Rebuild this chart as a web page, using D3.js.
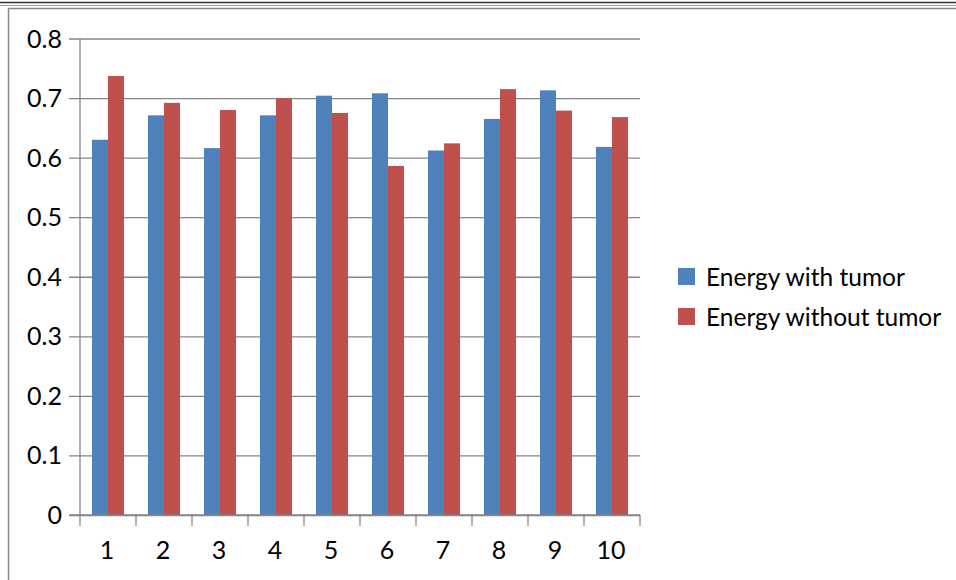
<!DOCTYPE html>
<html>
<head>
<meta charset="utf-8">
<script src="https://cdn.jsdelivr.net/npm/d3@7"></script>
<style>
  html, body { margin: 0; padding: 0; background: #fff; }
  svg { display: block; }
  text { font-family: Lato, "Open Sans", sans-serif; fill: #000; }
</style>
</head>
<body>
<svg id="chart" width="956" height="580"></svg>
<script>
// Sample index along the x axis
const categories = ["1", "2", "3", "4", "5", "6", "7", "8", "9", "10"];
// Series names and their values per sample
const seriesNames = ["Energy with tumor", "Energy without tumor"];
const withTumor = [0.630, 0.671, 0.616, 0.671, 0.704, 0.708, 0.612, 0.665, 0.713, 0.618];
const withoutTumor = [0.737, 0.692, 0.680, 0.700, 0.675, 0.586, 0.624, 0.715, 0.679, 0.668];
// Y axis tick values
const yTicks = [0, 0.1, 0.2, 0.3, 0.4, 0.5, 0.6, 0.7, 0.8];

const colors = ["#4F81BD", "#C0504D"];
const series = [withTumor, withoutTumor];

const svg = d3.select("#chart");

// Page frame: rules across the top and the box edge on the left
svg.append("line").attr("x1", 0).attr("x2", 956).attr("y1", 2.5).attr("y2", 2.5)
  .attr("stroke", "#333").attr("stroke-width", 1.5);
svg.append("line").attr("x1", 0).attr("x2", 956).attr("y1", 5.5).attr("y2", 5.5)
  .attr("stroke", "#999").attr("stroke-width", 1);
svg.append("line").attr("x1", 8).attr("x2", 956).attr("y1", 8.5).attr("y2", 8.5)
  .attr("stroke", "#888").attr("stroke-width", 1.5);
svg.append("line").attr("x1", 8.5).attr("x2", 8.5).attr("y1", 8).attr("y2", 580)
  .attr("stroke", "#888").attr("stroke-width", 1.5);

const plot = { left: 80, right: 640, top: 38.5, bottom: 515 };

const x = d3.scaleBand().domain(categories).range([plot.left, plot.right]).paddingInner(0).paddingOuter(0);
const y = d3.scaleLinear().domain([0, 0.8]).range([plot.bottom, plot.top]);
const barW = 16;

// Horizontal gridlines (with the short tick stub left of the axis)
svg.append("g").attr("transform", `translate(${plot.left},0)`)
  .call(d3.axisLeft(y).tickValues(yTicks).tickSize(-(plot.right - plot.left)).tickFormat(""))
  .call(g => g.select(".domain").remove())
  .call(g => g.selectAll(".tick line").attr("stroke", "#868686").attr("stroke-width", 1.3)
    .attr("x1", -11));

// Y tick labels
svg.append("g").selectAll("text").data(yTicks).join("text")
  .attr("x", 62).attr("y", d => y(d)).attr("dy", "0.36em")
  .attr("text-anchor", "end").attr("font-size", 25)
  .text(d => d === 0 ? "0" : d3.format(".1f")(d));

// Bars
series.forEach((vals, si) => {
  svg.append("g").selectAll("rect").data(vals).join("rect")
    .attr("x", (d, i) => x(categories[i]) + x.bandwidth() / 2 - barW + si * barW)
    .attr("y", d => y(d))
    .attr("width", barW)
    .attr("height", d => y(0) - y(d))
    .attr("fill", colors[si]);
});

// Y axis line
svg.append("line").attr("x1", plot.left).attr("x2", plot.left)
  .attr("y1", plot.top).attr("y2", plot.bottom)
  .attr("stroke", "#868686").attr("stroke-width", 1.3);

// X axis with ticks between categories
const xAxisG = svg.append("g").attr("transform", `translate(0,${plot.bottom})`);
xAxisG.append("line").attr("x1", plot.left - 11).attr("x2", plot.right)
  .attr("stroke", "#868686").attr("stroke-width", 1.3);
const boundaries = categories.map(c => x(c)).concat([plot.right]);
xAxisG.selectAll("line.tk").data(boundaries).join("line").attr("class", "tk")
  .attr("x1", d => d).attr("x2", d => d).attr("y1", 0).attr("y2", 11)
  .attr("stroke", "#868686").attr("stroke-width", 1.3);
xAxisG.selectAll("text").data(categories).join("text")
  .attr("x", d => x(d) + x.bandwidth() / 2 - 1).attr("y", 44)
  .attr("text-anchor", "middle").attr("font-size", 25)
  .text(d => d);

// Legend
const legend = svg.append("g").attr("transform", "translate(678,268)");
seriesNames.forEach((name, i) => {
  const g = legend.append("g").attr("transform", `translate(0,${i * 40})`);
  g.append("rect").attr("width", 17).attr("height", 17).attr("fill", colors[i]);
  g.append("text").attr("x", 28).attr("y", 18)
    .attr("font-size", 24.5).text(name);
});
</script>
</body>
</html>
